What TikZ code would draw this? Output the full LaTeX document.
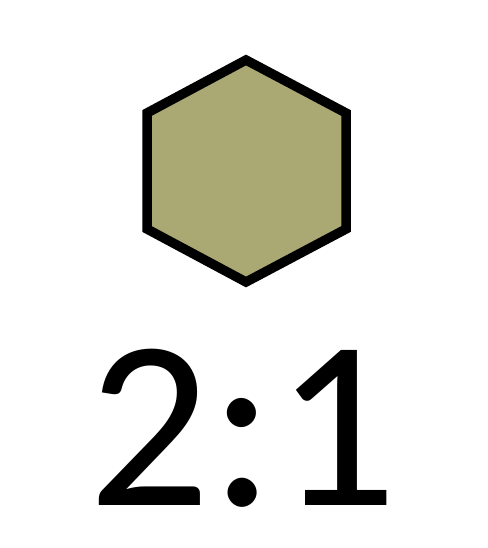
\documentclass[tikz,border=0pt]{standalone}
\usepackage{fontspec}
\setmainfont{Carlito}
\definecolor{hexfill}{RGB}{171,169,115}
\tikzset{hexstyle/.style={draw=black,fill=hexfill,line width=9.5pt,line join=miter},
ratio/.style={inner sep=0pt,text depth=0pt,font=\fontsize{241}{250}\selectfont,anchor=base}}
\begin{document}
\begin{tikzpicture}[x=1pt,y=-1pt]
\useasboundingbox (0,0) rectangle (487,548);
\coordinate (v1) at (246,60);
\coordinate (v2) at (346,113);
\coordinate (v3) at (346,229);
\coordinate (v4) at (246,282);
\coordinate (v5) at (147,229);
\coordinate (v6) at (147,113);
\draw[hexstyle] (v1) -- (v2) -- (v3) -- (v4) -- (v5) -- (v6) -- cycle;
\node[ratio] (txt) at (243,505) {2:1};
\end{tikzpicture}
\end{document}
